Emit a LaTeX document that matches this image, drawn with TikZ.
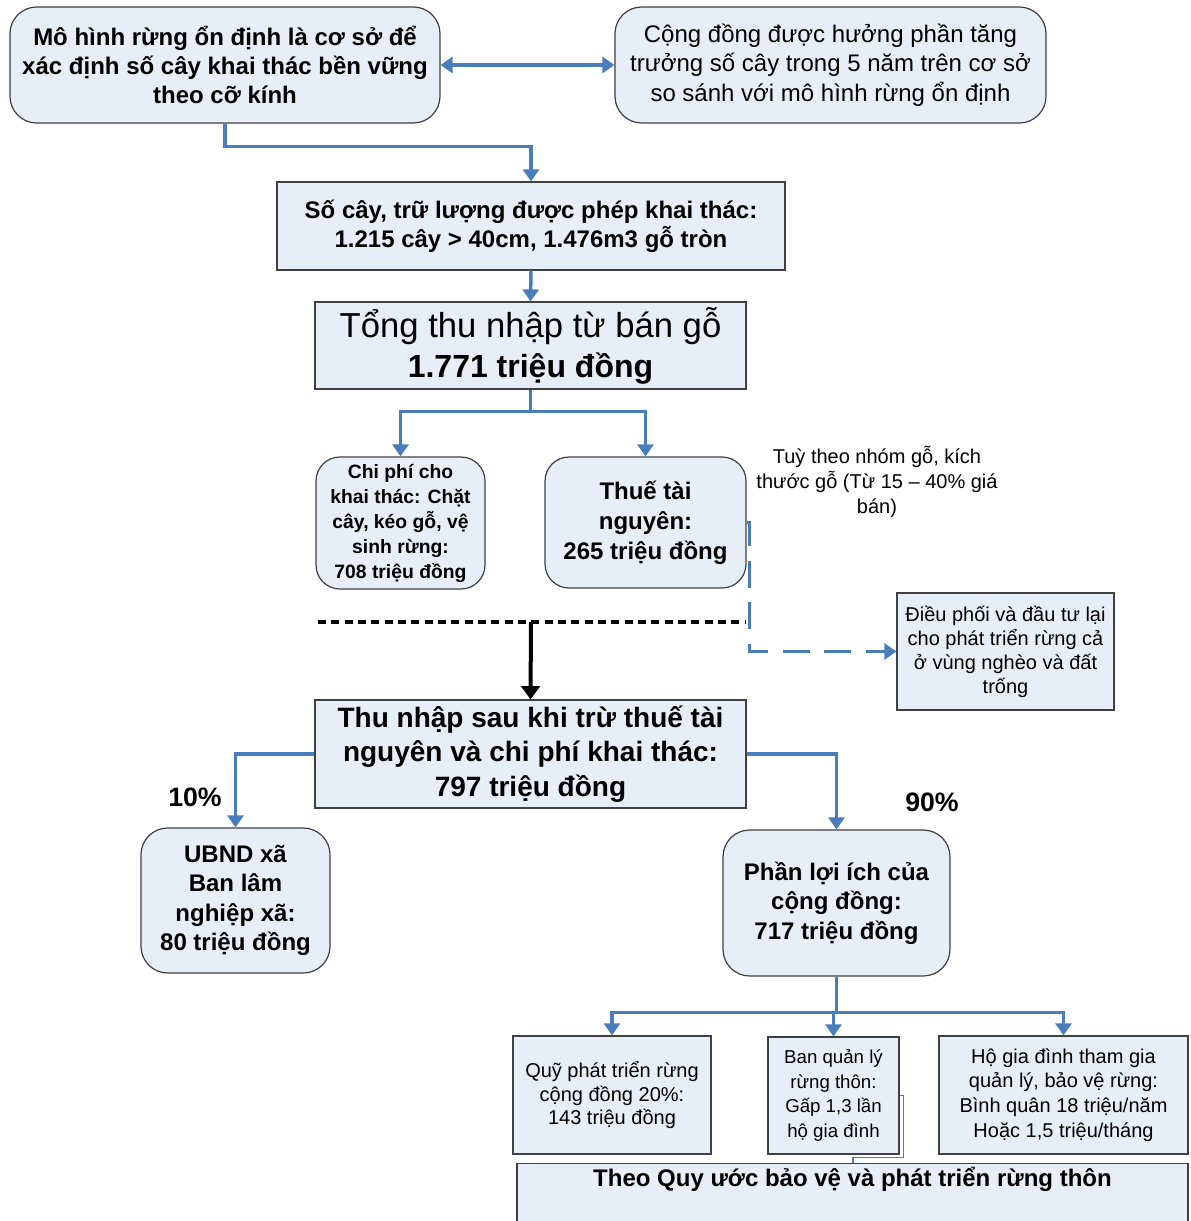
\documentclass[tikz,border=0pt]{standalone}
\usepackage{fontspec}
\setmainfont{Liberation Sans}
\usetikzlibrary{arrows.meta}
\definecolor{boxfill}{HTML}{E8EEF7}
\definecolor{boxline}{HTML}{404040}
\definecolor{arrblue}{HTML}{4A7EBB}
\newcommand\myfs[2]{\fontsize{#1}{#2}\selectfont}
\begin{document}
\begin{tikzpicture}[x=0.75pt,y=-0.75pt,
  box/.style={draw=boxline, fill=boxfill, line width=0.9pt, inner sep=0pt, align=center, rectangle},
  rbox/.style={box, rounded corners=20pt},
  conn/.style={draw=arrblue, line width=2.6pt, -{Triangle[width=12pt,length=9pt]}},
  stub/.style={draw=arrblue, line width=2.6pt},
  dconn/.style={draw=arrblue, line width=2.4pt, dash pattern=on 20pt off 11pt, -{Triangle[width=12pt,length=9pt]}},
  thinblue/.style={draw=arrblue, line width=0.8pt},
  big/.style={font=\myfs{18}{22}\bfseries},
  reg/.style={font=\myfs{18}{22}},
  small/.style={font=\myfs{15}{18}},
]
\useasboundingbox (0,0) rectangle (1190,1221);

% top row
\node[rbox, big, minimum width=322.5pt, minimum height=87pt] (A) at (225,65)
  {Mô hình rừng ổn định là cơ sở để\\xác định số cây khai thác bền vững\\theo cỡ kính};
\node[rbox, reg, minimum width=323.25pt, minimum height=87pt] (B) at (830.5,65)
  {Cộng đồng được hưởng phần tăng\\trưởng số cây trong 5 năm trên cơ sở\\so sánh với mô hình rừng ổn định};

\node[box, big, minimum width=381pt, minimum height=66pt] (C) at (531,226)
  {Số cây, trữ lượng được phép khai thác:\\1.215 cây > 40cm, 1.476m3 gỗ tròn};

\node[box, font=\myfs{26}{30}, minimum width=323.25pt, minimum height=65.25pt] (D) at (530.5,345.5)
  {Tổng thu nhập từ bán gỗ\\{\myfs{24}{30}\bfseries 1.771 triệu đồng}};

\node[rbox, rounded corners=18pt, font=\myfs{14.5}{18.75}\bfseries, minimum width=126.75pt, minimum height=99pt] (E) at (400.5,523)
  {Chi phí cho\\khai thác: Chặt\\cây, kéo gỗ, vệ\\sinh rừng:\\708 triệu đồng};
\node[rbox, rounded corners=18pt, font=\myfs{18}{22.5}\bfseries, minimum width=150.75pt, minimum height=98.25pt] (F) at (645.5,522.5)
  {Thuế tài\\nguyên:\\265 triệu đồng};

\node[font=\myfs{15}{18.5}, align=center] (note) at (877,482)
  {Tuỳ theo nhóm gỗ, kích\\thước gỗ (Từ 15 – 40\% giá\\bán)};

\node[box, small, minimum width=162.75pt, minimum height=87.75pt] (G) at (1005.5,651.5)
  {Điều phối và đầu tư lại\\cho phát triển rừng cả\\ở vùng nghèo và đất\\trống};

\node[box, font=\myfs{21}{26}\bfseries, minimum width=323.25pt, minimum height=81pt] (H) at (530.5,754)
  {Thu nhập sau khi trừ thuế tài\\nguyên và chi phí khai thác:\\797 triệu đồng};

\node[rbox, big, minimum width=141.75pt, minimum height=108.75pt] (I) at (235.5,900.5)
  {UBND xã\\Ban lâm\\nghiệp xã:\\80 triệu đồng};
\node[rbox, big, minimum width=170.25pt, minimum height=109.5pt] (J) at (836.5,903)
  {Phần lợi ích của\\cộng đồng:\\717 triệu đồng};

\node[font=\myfs{20}{24}\bfseries] (p10) at (195,797) {10\%};
\node[font=\myfs{20}{24}\bfseries] (p90) at (932,802) {90\%};

\node[box, font=\myfs{15}{17.6}, minimum width=148.5pt, minimum height=88.5pt] (K) at (612,1095)
  {Quỹ phát triển rừng\\cộng đồng 20\%:\\143 triệu đồng};
\node[box, font=\myfs{14}{18.5}, minimum width=98.25pt, minimum height=87.75pt] (L) at (833.5,1095.5)
  {Ban quản lý\\rừng thôn:\\Gấp 1,3 lần\\hộ gia đình};
\node[box, font=\myfs{15}{18.5}, minimum width=186.75pt, minimum height=88.5pt] (M) at (1063.5,1095)
  {Hộ gia đình tham gia\\quản lý, bảo vệ rừng:\\Bình quân 18 triệu/năm\\Hoặc 1,5 triệu/tháng};

\node[box, anchor=north, minimum width=503.25pt, minimum height=52.5pt] (N) at (852.5,1163) {};
\node[big] (Ntext) at (852.5,1179) {Theo Quy ước bảo vệ và phát triển rừng thôn};

% connectors
\draw[stub, {Triangle[width=12pt,length=9pt]}-{Triangle[width=12pt,length=9pt]}] (A.east) -- (B.west);
\draw[conn] (A.south) -- ++(0,23) -| (C.north);
\draw[conn] (C.south) -- (D.north);
\draw[stub] (D.south) -- ++(0,22) coordinate (d1);
\draw[conn] (d1) -| (E.north);
\draw[conn] (d1) -| (F.north);
\draw[dconn] (F.east) -- ++(3,0) |- (G.west);

\coordinate (s1) at (318,622);
\coordinate (s2) at (745,622);
\coordinate (s3) at (531,622);
\draw[black, line width=2.4pt, dash pattern=on 6pt off 4pt] (s1) -- (s2);
\draw[black, line width=3pt, -{Triangle[width=14pt,length=10pt]}] (s3) -- (H.north);

\draw[conn] (H.west) -| (I.north);
\draw[conn] (H.east) -| (J.north);
\draw[stub] (J.south) -- ++(0,36) coordinate (j1);
\draw[conn] (j1) -| (K.north);
\draw[conn] (j1) -| (L.north);
\draw[conn] (j1) -| (M.north);

\coordinate (nl) at (853,1163);
\draw[thinblue] (L.east) -- ++(4,0) -- ++(0,62) -| (nl);
\end{tikzpicture}
\end{document}
